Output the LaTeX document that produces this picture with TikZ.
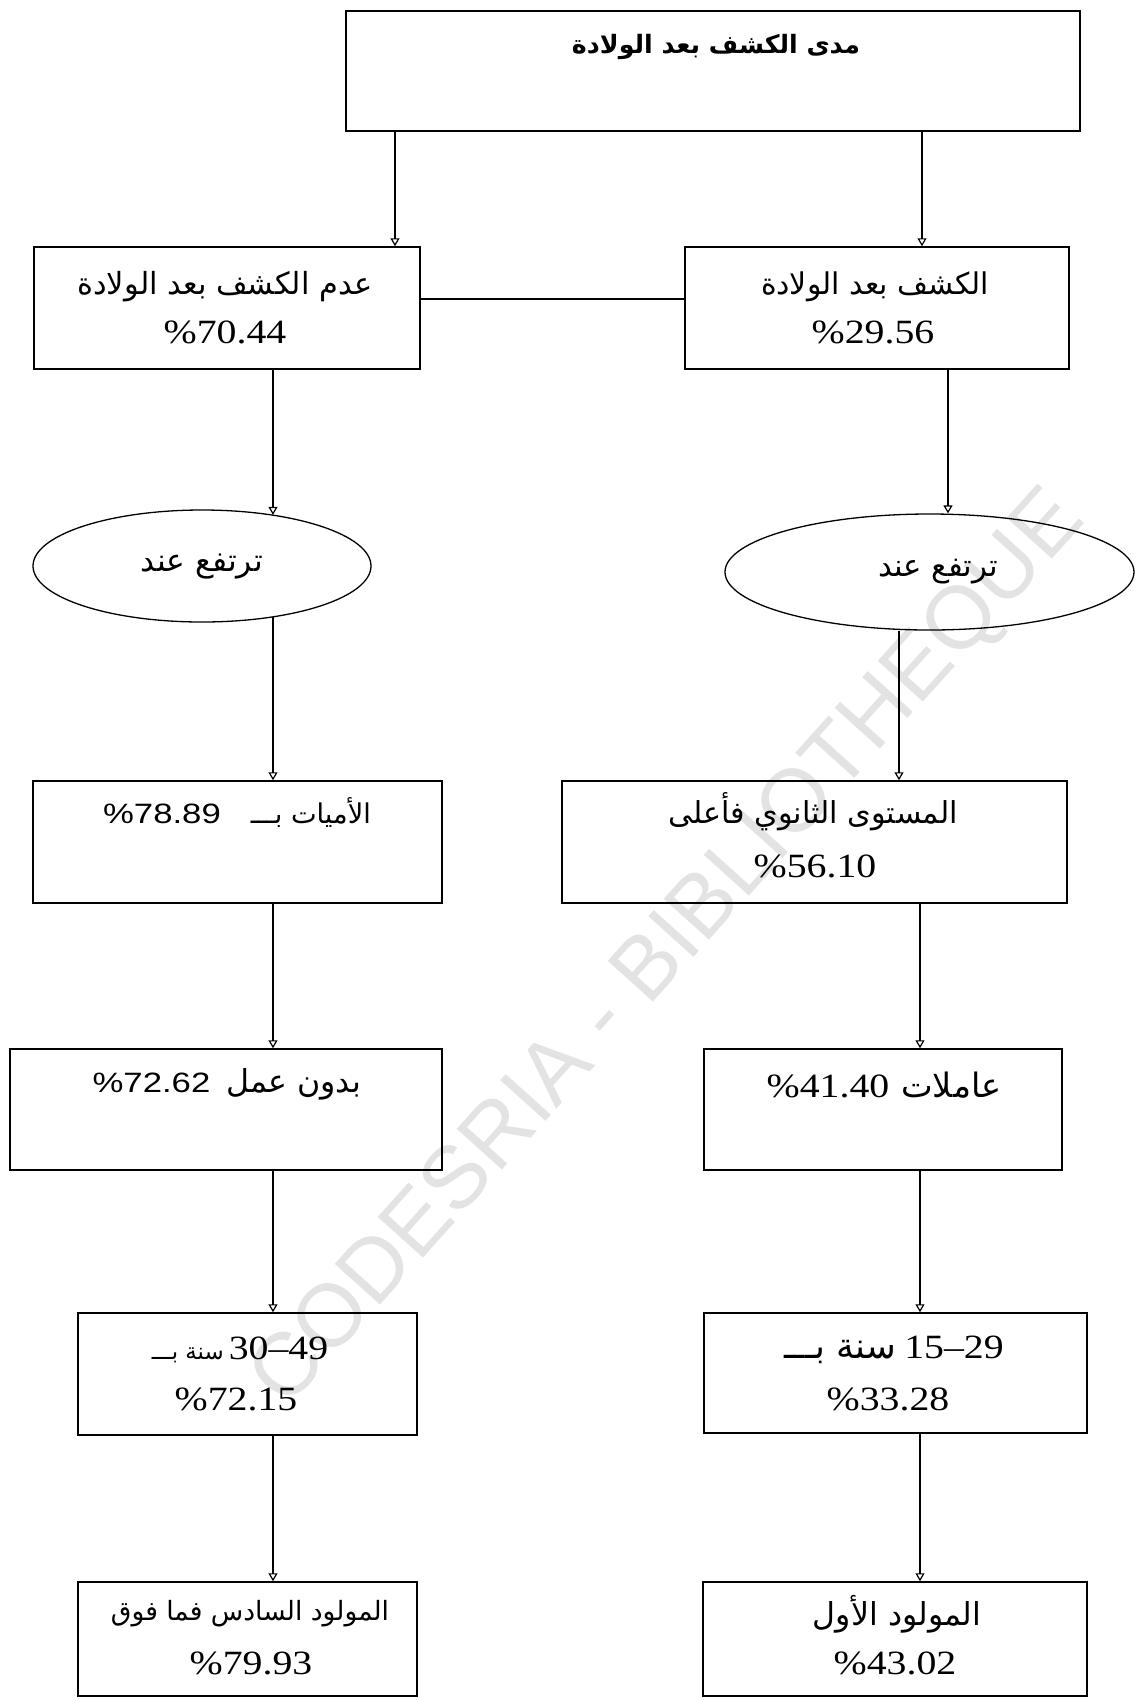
\documentclass[tikz,border=0pt]{standalone}
\usepackage{fontspec}
\usetikzlibrary{arrows.meta,shapes.geometric}
\TeXXeTstate=1
\newfontfamily\arabicfont[Script=Arabic]{DejaVu Sans}
\newfontfamily\numfont{Liberation Serif}
\newfontfamily\numsans{Liberation Sans}
\newfontfamily\markfont{Liberation Sans}

% Arabic run scaled to a given width (pt)
\newcommand\arw[2]{\resizebox{#1pt}{!}{\arabicfont #2}}
\newcommand\arwb[2]{\resizebox{#1pt}{!}{\arabicfont\bfseries #2}}
% percentages, serif and sans, slightly widened
\newcommand\pct[1]{\scalebox{1.17}[1]{\numfont\fontsize{34}{36}\selectfont\%#1}}
\newcommand\pcs[1]{\scalebox{1.24}[1]{\numsans\fontsize{28}{30}\selectfont\%#1}}
\newcommand\rng[1]{\scalebox{1.17}[1]{\numfont\fontsize{34}{36}\selectfont #1}}

\begin{document}
\begin{tikzpicture}[x=1pt,y=-1pt,
  box/.style={draw, line width=1.5pt, inner sep=0pt},
  oval/.style={draw, ellipse, line width=1.3pt, inner sep=0pt},
  link/.style={line width=1.2pt},
  arr/.style={line width=1.2pt, -{Triangle[open,length=8pt,width=9pt]}},
  lbl/.style={inner sep=0pt, anchor=center}]

\useasboundingbox (0,0) rectangle (1136,1701);

% watermark
\node[lbl, rotate=48, text=black!11] (wm) at (670,950)
  {\resizebox{1195pt}{!}{\markfont CODESRIA - BIBLIOTHEQUE}};

% boxes
\node[box, minimum width=734pt, minimum height=120pt] (top) at (713,71) {};
\node[box, minimum width=386pt, minimum height=122pt] (b2l) at (227,308) {};
\node[box, minimum width=384pt, minimum height=122pt] (b2r) at (877,308) {};
\node[oval, minimum width=338pt, minimum height=112pt] (ell) at (202,566) {};
\node[oval, minimum width=409pt, minimum height=116pt] (elr) at (929.5,572) {};
\node[box, minimum width=409pt, minimum height=122pt] (b3l) at (237.5,842) {};
\node[box, minimum width=505pt, minimum height=122pt] (b3r) at (814.5,842) {};
\node[box, minimum width=432pt, minimum height=121pt] (b4l) at (226,1109.5) {};
\node[box, minimum width=358pt, minimum height=121pt] (b4r) at (883,1109.5) {};
\node[box, minimum width=339pt, minimum height=122pt] (b5l) at (247.5,1374) {};
\node[box, minimum width=383pt, minimum height=120pt] (b5r) at (895.5,1373) {};
\node[box, minimum width=339pt, minimum height=114pt] (b6l) at (247.5,1639) {};
\node[box, minimum width=384pt, minimum height=114pt] (b6r) at (895,1639) {};

% texts
\node[lbl] (t1) at (716,47) {\arwb{288}{\beginR مدى الكشف بعد الولادة\endR}};
\node[lbl] (t2a) at (225,287) {\arw{295}{\beginR عدم الكشف بعد الولادة\endR}};
\node[lbl] (t2b) at (225,332) {\pct{70.44}};
\node[lbl] (t2c) at (875,287) {\arw{228}{\beginR الكشف بعد الولادة\endR}};
\node[lbl] (t2d) at (873,332) {\pct{29.56}};
\node[lbl] (te1) at (202,567) {\arw{122}{\beginR ترتفع عند\endR}};
\node[lbl] (te2) at (938,572) {\arw{120}{\beginR ترتفع عند\endR}};
\node[lbl] (t3a) at (237,812) {\pcs{78.89}\hspace{30pt}\arw{120}{\beginR الأميات بـــ\endR}};
\node[lbl] (t3b) at (813,812) {\arw{290}{\beginR المستوى الثانوي فأعلى\endR}};
\node[lbl] (t3c) at (815,866) {\pct{56.10}};
\node[lbl] (t4a) at (227,1084) {\pcs{72.62}\hspace{16pt}\arw{135}{\beginR بدون عمل\endR}};
\node[lbl] (t4b) at (884,1085) {\pct{41.40}\hspace{12pt}\arw{100}{\beginR عاملات\endR}};
\node[lbl] (t5a) at (240,1350) {\arw{72}{\beginR سنة بـــ\endR}\hspace{5pt}\rng{30–49}};
\node[lbl] (t5b) at (236,1399) {\pct{72.15}};
\node[lbl] (t5c) at (894,1350) {\arw{112}{\beginR سنة بـــ\endR}\hspace{8pt}\rng{15–29}};
\node[lbl] (t5d) at (888,1399) {\pct{33.28}};
\node[lbl] (t6a) at (250,1614) {\arw{278}{\beginR المولود السادس فما فوق\endR}};
\node[lbl] (t6b) at (251,1663) {\pct{79.93}};
\node[lbl] (t6c) at (897,1614) {\arw{168}{\beginR المولود الأول\endR}};
\node[lbl] (t6d) at (895,1663) {\pct{43.02}};

% connector columns
\coordinate (xa) at (395,0);
\coordinate (xb) at (922,0);
\coordinate (xl) at (273,0);
\coordinate (xr1) at (948,0);
\coordinate (xr2) at (899,0);
\coordinate (xr3) at (920,0);
\coordinate (ym) at (0,299);

% connectors
\draw[arr] (top.south -| xa) -- (b2l.north -| xa);
\draw[arr] (top.south -| xb) -- (b2r.north -| xb);
\draw[link] (b2l.east |- ym) -- (b2r.west |- ym);
\draw[arr] (b2l.south -| xl) -- (xl |- ell.35);
\draw[arr] (b2r.south -| xr1) -- (elr.north -| xr1);
\draw[arr] (xl |- ell.-35) -- (b3l.north -| xl);
\draw[arr] (elr.south -| xr2) -- (b3r.north -| xr2);
\draw[arr] (b3l.south -| xl) -- (b4l.north -| xl);
\draw[arr] (b3r.south -| xr3) -- (b4r.north -| xr3);
\draw[arr] (b4l.south -| xl) -- (b5l.north -| xl);
\draw[arr] (b4r.south -| xr3) -- (b5r.north -| xr3);
\draw[arr] (b5l.south -| xl) -- (b6l.north -| xl);
\draw[arr] (b5r.south -| xr3) -- (b6r.north -| xr3);
\end{tikzpicture}
\end{document}
